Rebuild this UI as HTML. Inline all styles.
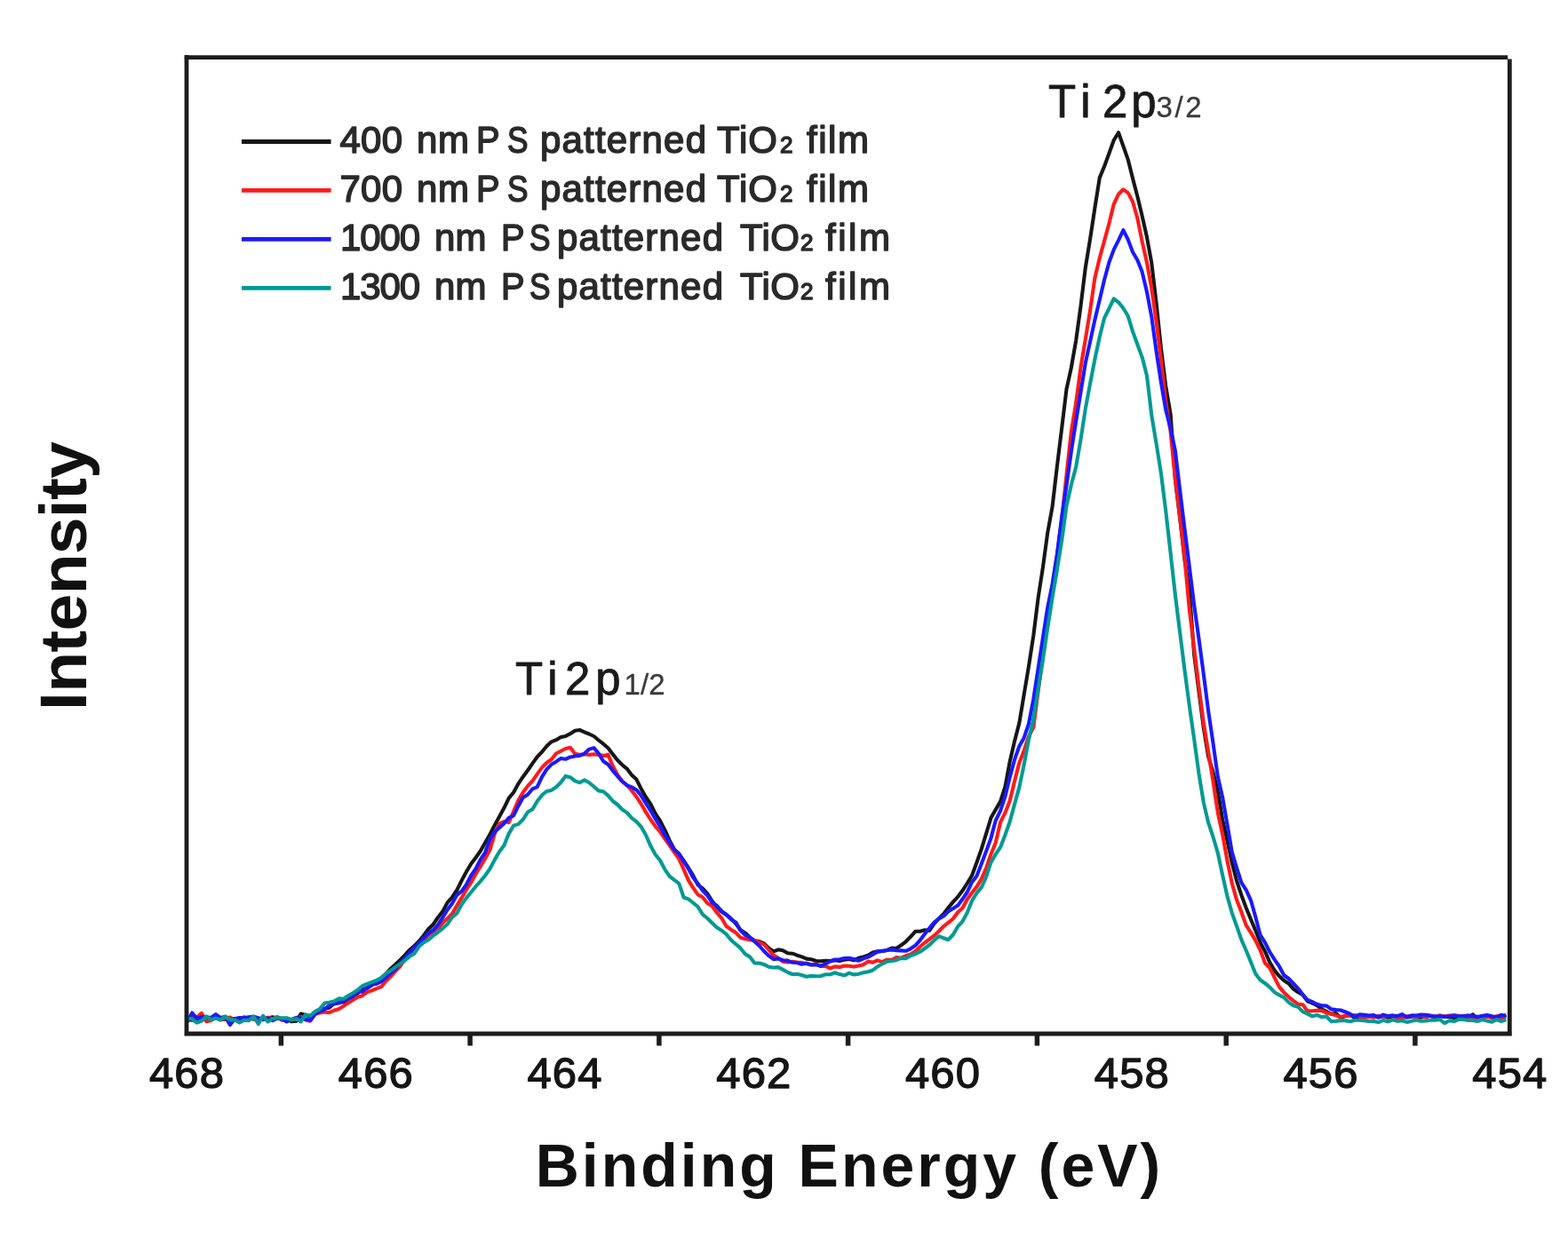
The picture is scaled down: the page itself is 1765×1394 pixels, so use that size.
<!DOCTYPE html>
<html><head><meta charset="utf-8"><title>Ti 2p XPS spectra</title>
<style>
html,body{margin:0;padding:0;background:#fff;}
body{width:1765px;height:1394px;overflow:hidden;}
svg{display:block;font-family:'Liberation Sans', Arial, Helvetica, sans-serif;filter:blur(0.5px);}
</style></head><body>
<svg width="1765" height="1394" viewBox="0 0 1765 1394">
<path d="M211.0,1147.8 L216.3,1148.8 L221.6,1147.7 L227.0,1144.1 L232.3,1149.0 L237.6,1148.0 L242.9,1145.8 L248.2,1148.3 L253.6,1147.8 L258.9,1147.6 L264.2,1147.1 L269.5,1148.2 L274.8,1145.4 L280.2,1146.6 L285.5,1145.9 L290.8,1148.3 L296.1,1147.1 L301.4,1146.4 L306.8,1145.3 L312.1,1146.6 L317.4,1147.3 L322.7,1146.7 L328.0,1150.3 L333.4,1149.8 L338.7,1141.6 L344.0,1143.0 L349.3,1144.4 L354.6,1141.6 L360.0,1139.1 L365.3,1135.8 L370.6,1134.8 L375.9,1129.8 L381.2,1128.4 L386.6,1128.5 L391.9,1124.8 L397.2,1122.2 L402.5,1118.3 L407.8,1114.2 L413.2,1112.7 L418.5,1109.3 L423.8,1104.6 L429.1,1101.1 L434.4,1096.9 L439.8,1090.7 L445.1,1085.9 L450.4,1080.9 L455.7,1075.6 L461.0,1069.7 L466.4,1065.1 L471.7,1059.7 L477.0,1053.2 L482.3,1046.1 L487.6,1041.0 L493.0,1033.0 L498.3,1026.4 L503.6,1016.4 L508.9,1010.5 L514.2,1002.5 L519.6,991.6 L524.9,981.7 L530.2,972.7 L535.5,965.8 L540.8,958.3 L546.2,948.7 L551.5,939.4 L556.8,929.3 L562.1,919.6 L567.4,909.8 L572.8,898.6 L578.1,892.2 L583.4,882.6 L588.7,874.7 L594.0,867.5 L599.4,859.6 L604.7,852.2 L610.0,846.8 L615.3,840.3 L620.6,835.3 L626.0,833.2 L631.3,830.1 L636.6,828.9 L641.9,826.2 L647.2,822.7 L652.6,822.0 L657.9,824.3 L663.2,826.5 L668.5,829.0 L673.8,833.5 L679.2,837.7 L684.5,842.3 L689.8,849.2 L695.1,856.0 L700.4,861.3 L705.8,865.7 L711.1,872.7 L716.4,877.6 L721.7,888.2 L727.0,897.5 L732.4,905.4 L737.7,916.1 L743.0,924.2 L748.3,934.4 L753.6,946.2 L759.0,956.4 L764.3,962.3 L769.6,969.2 L774.9,977.2 L780.2,985.9 L785.6,996.4 L790.9,1000.4 L796.2,1006.1 L801.5,1014.6 L806.8,1021.1 L812.2,1026.6 L817.5,1029.9 L822.8,1034.4 L828.1,1039.7 L833.4,1047.0 L838.8,1050.6 L844.1,1055.6 L849.4,1059.4 L854.7,1060.0 L860.0,1062.4 L865.4,1067.8 L870.7,1071.3 L876.0,1069.3 L881.3,1070.3 L886.6,1073.3 L892.0,1073.7 L897.3,1075.7 L902.6,1077.4 L907.9,1079.6 L913.2,1080.2 L918.6,1082.0 L923.9,1082.3 L929.2,1081.7 L934.5,1082.1 L939.8,1081.3 L945.2,1081.9 L950.5,1080.6 L955.8,1080.0 L961.1,1081.3 L966.4,1078.8 L971.8,1077.4 L977.1,1075.7 L982.4,1072.6 L987.7,1071.3 L993.0,1070.9 L998.4,1069.9 L1003.7,1067.6 L1009.0,1067.9 L1014.3,1064.3 L1019.6,1060.3 L1025.0,1054.8 L1030.3,1048.8 L1035.6,1048.8 L1040.9,1047.3 L1046.2,1047.8 L1051.6,1039.8 L1056.9,1034.1 L1062.2,1028.9 L1067.5,1022.1 L1072.8,1015.6 L1078.2,1009.8 L1083.5,1002.8 L1088.8,994.5 L1094.1,985.7 L1099.4,971.2 L1104.8,955.9 L1110.1,938.6 L1115.4,921.1 L1120.7,911.7 L1126.0,902.6 L1131.4,886.1 L1136.7,857.5 L1142.0,834.8 L1147.3,814.3 L1152.6,782.5 L1158.0,750.2 L1163.3,715.8 L1168.6,673.2 L1173.9,639.0 L1179.2,600.0 L1184.6,570.4 L1189.9,525.1 L1195.2,481.9 L1200.5,438.3 L1205.8,414.2 L1211.2,383.3 L1216.5,344.8 L1221.8,301.6 L1227.1,269.1 L1232.4,234.1 L1237.8,200.1 L1243.1,187.2 L1248.4,172.8 L1253.7,158.0 L1259.0,149.2 L1264.4,164.5 L1269.7,179.6 L1275.0,200.8 L1280.3,221.0 L1285.6,242.9 L1291.0,267.1 L1296.3,296.2 L1301.6,341.3 L1306.9,392.0 L1312.2,434.6 L1317.6,466.3 L1322.9,540.1 L1328.2,583.6 L1333.5,630.1 L1338.8,665.4 L1344.2,737.2 L1349.5,778.6 L1354.8,819.4 L1360.1,851.6 L1365.4,869.4 L1370.8,890.6 L1376.1,922.9 L1381.4,946.4 L1386.7,971.1 L1392.0,991.6 L1397.4,1007.9 L1402.7,1022.3 L1408.0,1035.3 L1413.3,1047.8 L1418.6,1061.2 L1424.0,1071.4 L1429.3,1083.6 L1434.6,1092.6 L1439.9,1099.1 L1445.2,1104.1 L1450.6,1107.5 L1455.9,1113.6 L1461.2,1117.3 L1466.5,1120.2 L1471.8,1127.3 L1477.2,1129.5 L1482.5,1132.1 L1487.8,1136.2 L1493.1,1139.0 L1498.4,1141.8 L1503.8,1141.1 L1509.1,1145.9 L1514.4,1144.0 L1519.7,1143.3 L1525.0,1145.7 L1530.4,1144.6 L1535.7,1145.4 L1541.0,1144.6 L1546.3,1144.9 L1551.6,1145.3 L1557.0,1144.2 L1562.3,1145.7 L1567.6,1144.5 L1572.9,1144.0 L1578.2,1145.1 L1583.6,1145.5 L1588.9,1144.7 L1594.2,1144.1 L1599.5,1145.7 L1604.8,1143.1 L1610.2,1143.9 L1615.5,1145.0 L1620.8,1143.5 L1626.1,1145.0 L1631.4,1144.9 L1636.8,1146.0 L1642.1,1144.0 L1647.4,1144.3 L1652.7,1145.4 L1658.0,1142.3 L1663.4,1148.4 L1668.7,1144.2 L1674.0,1144.2 L1679.3,1145.9 L1684.6,1145.0 L1690.0,1143.0 L1695.3,1145.7" fill="none" stroke="#161616" stroke-width="4.1" stroke-linejoin="round"/>
<path d="M211.0,1146.4 L216.3,1144.9 L221.6,1145.3 L227.0,1140.9 L232.3,1150.3 L237.6,1149.0 L242.9,1145.8 L248.2,1148.3 L253.6,1147.3 L258.9,1145.5 L264.2,1149.0 L269.5,1146.2 L274.8,1146.2 L280.2,1145.2 L285.5,1148.0 L290.8,1146.8 L296.1,1148.2 L301.4,1145.7 L306.8,1147.3 L312.1,1145.0 L317.4,1148.9 L322.7,1147.4 L328.0,1147.7 L333.4,1147.9 L338.7,1144.8 L344.0,1148.4 L349.3,1149.7 L354.6,1142.0 L360.0,1140.6 L365.3,1139.5 L370.6,1140.2 L375.9,1137.8 L381.2,1136.2 L386.6,1132.9 L391.9,1129.2 L397.2,1126.0 L402.5,1122.7 L407.8,1121.2 L413.2,1117.1 L418.5,1115.4 L423.8,1113.1 L429.1,1111.1 L434.4,1104.8 L439.8,1099.5 L445.1,1093.7 L450.4,1088.1 L455.7,1080.1 L461.0,1075.3 L466.4,1066.9 L471.7,1064.3 L477.0,1059.3 L482.3,1052.6 L487.6,1049.6 L493.0,1045.5 L498.3,1039.1 L503.6,1034.2 L508.9,1029.0 L514.2,1019.9 L519.6,1011.2 L524.9,1001.8 L530.2,993.9 L535.5,984.1 L540.8,975.7 L546.2,966.8 L551.5,956.9 L556.8,939.0 L562.1,927.6 L567.4,925.1 L572.8,925.9 L578.1,913.7 L583.4,901.2 L588.7,892.3 L594.0,885.1 L599.4,879.4 L604.7,871.6 L610.0,864.4 L615.3,859.0 L620.6,855.3 L626.0,848.5 L631.3,845.7 L636.6,843.0 L641.9,841.8 L647.2,848.8 L652.6,849.8 L657.9,849.3 L663.2,849.9 L668.5,849.2 L673.8,850.1 L679.2,850.9 L684.5,849.7 L689.8,862.6 L695.1,872.4 L700.4,879.7 L705.8,884.2 L711.1,890.2 L716.4,897.2 L721.7,905.4 L727.0,914.4 L732.4,923.0 L737.7,930.3 L743.0,936.5 L748.3,944.3 L753.6,951.8 L759.0,959.6 L764.3,967.1 L769.6,978.8 L774.9,991.1 L780.2,999.6 L785.6,1007.4 L790.9,1010.2 L796.2,1017.0 L801.5,1020.3 L806.8,1027.4 L812.2,1033.8 L817.5,1042.8 L822.8,1046.7 L828.1,1050.1 L833.4,1055.7 L838.8,1057.2 L844.1,1058.2 L849.4,1058.9 L854.7,1061.1 L860.0,1063.5 L865.4,1069.5 L870.7,1075.6 L876.0,1078.8 L881.3,1082.7 L886.6,1083.5 L892.0,1082.8 L897.3,1083.5 L902.6,1083.9 L907.9,1084.9 L913.2,1086.3 L918.6,1085.5 L923.9,1087.9 L929.2,1087.8 L934.5,1090.3 L939.8,1088.4 L945.2,1088.9 L950.5,1087.6 L955.8,1087.7 L961.1,1088.6 L966.4,1087.5 L971.8,1086.2 L977.1,1082.6 L982.4,1083.7 L987.7,1081.4 L993.0,1083.1 L998.4,1080.6 L1003.7,1081.1 L1009.0,1078.0 L1014.3,1078.7 L1019.6,1076.3 L1025.0,1074.6 L1030.3,1071.2 L1035.6,1066.0 L1040.9,1061.5 L1046.2,1057.6 L1051.6,1053.4 L1056.9,1048.5 L1062.2,1043.0 L1067.5,1038.8 L1072.8,1034.5 L1078.2,1027.3 L1083.5,1022.5 L1088.8,1012.5 L1094.1,1005.3 L1099.4,998.6 L1104.8,989.6 L1110.1,977.5 L1115.4,962.0 L1120.7,949.0 L1126.0,926.2 L1131.4,915.4 L1136.7,901.8 L1142.0,879.7 L1147.3,859.0 L1152.6,845.4 L1158.0,829.2 L1163.3,818.9 L1168.6,778.2 L1173.9,739.5 L1179.2,688.7 L1184.6,659.5 L1189.9,625.6 L1195.2,584.7 L1200.5,534.7 L1205.8,486.7 L1211.2,453.4 L1216.5,413.7 L1221.8,382.1 L1227.1,349.7 L1232.4,312.9 L1237.8,290.4 L1243.1,271.1 L1248.4,251.8 L1253.7,230.1 L1259.0,218.7 L1264.4,213.3 L1269.7,217.1 L1275.0,227.0 L1280.3,245.5 L1285.6,271.8 L1291.0,295.9 L1296.3,324.8 L1301.6,362.3 L1306.9,404.5 L1312.2,452.0 L1317.6,485.8 L1322.9,539.6 L1328.2,583.3 L1333.5,628.8 L1338.8,686.1 L1344.2,730.4 L1349.5,773.6 L1354.8,813.9 L1360.1,846.3 L1365.4,879.0 L1370.8,915.0 L1376.1,939.5 L1381.4,969.0 L1386.7,994.1 L1392.0,1013.1 L1397.4,1027.0 L1402.7,1041.9 L1408.0,1050.1 L1413.3,1059.1 L1418.6,1069.9 L1424.0,1084.5 L1429.3,1089.9 L1434.6,1100.6 L1439.9,1111.1 L1445.2,1117.4 L1450.6,1122.6 L1455.9,1126.8 L1461.2,1130.7 L1466.5,1131.3 L1471.8,1138.6 L1477.2,1138.2 L1482.5,1137.9 L1487.8,1137.9 L1493.1,1140.6 L1498.4,1141.7 L1503.8,1143.4 L1509.1,1145.0 L1514.4,1143.8 L1519.7,1143.6 L1525.0,1143.0 L1530.4,1144.6 L1535.7,1145.8 L1541.0,1144.8 L1546.3,1145.7 L1551.6,1143.7 L1557.0,1144.5 L1562.3,1144.2 L1567.6,1143.6 L1572.9,1147.0 L1578.2,1145.9 L1583.6,1144.2 L1588.9,1144.2 L1594.2,1144.9 L1599.5,1143.4 L1604.8,1145.5 L1610.2,1143.6 L1615.5,1144.6 L1620.8,1143.9 L1626.1,1144.5 L1631.4,1143.5 L1636.8,1143.3 L1642.1,1143.9 L1647.4,1144.3 L1652.7,1144.7 L1658.0,1145.1 L1663.4,1146.7 L1668.7,1145.9 L1674.0,1144.7 L1679.3,1145.8 L1684.6,1144.2 L1690.0,1146.6 L1695.3,1145.6" fill="none" stroke="#ff1a1a" stroke-width="4.1" stroke-linejoin="round"/>
<path d="M211.0,1150.5 L216.3,1140.5 L221.6,1147.1 L227.0,1145.0 L232.3,1145.4 L237.6,1146.0 L242.9,1142.1 L248.2,1146.1 L253.6,1144.8 L258.9,1154.1 L264.2,1147.3 L269.5,1146.1 L274.8,1146.3 L280.2,1145.5 L285.5,1144.6 L290.8,1146.1 L296.1,1148.1 L301.4,1146.5 L306.8,1149.1 L312.1,1146.6 L317.4,1147.1 L322.7,1150.4 L328.0,1148.2 L333.4,1145.9 L338.7,1146.6 L344.0,1147.8 L349.3,1148.8 L354.6,1141.7 L360.0,1138.8 L365.3,1136.5 L370.6,1132.1 L375.9,1130.5 L381.2,1129.6 L386.6,1127.2 L391.9,1124.3 L397.2,1122.1 L402.5,1116.0 L407.8,1116.6 L413.2,1112.0 L418.5,1108.7 L423.8,1107.8 L429.1,1105.2 L434.4,1100.7 L439.8,1095.8 L445.1,1091.1 L450.4,1084.5 L455.7,1079.3 L461.0,1072.8 L466.4,1066.9 L471.7,1062.4 L477.0,1056.1 L482.3,1050.8 L487.6,1047.3 L493.0,1041.3 L498.3,1033.1 L503.6,1024.4 L508.9,1017.5 L514.2,1007.8 L519.6,1003.7 L524.9,996.1 L530.2,986.0 L535.5,978.2 L540.8,968.0 L546.2,959.8 L551.5,944.8 L556.8,936.8 L562.1,932.0 L567.4,927.2 L572.8,920.8 L578.1,918.4 L583.4,907.7 L588.7,898.1 L594.0,894.7 L599.4,888.3 L604.7,886.1 L610.0,874.9 L615.3,866.4 L620.6,860.8 L626.0,857.7 L631.3,853.9 L636.6,854.8 L641.9,852.4 L647.2,851.4 L652.6,850.8 L657.9,848.6 L663.2,843.6 L668.5,842.1 L673.8,848.4 L679.2,857.2 L684.5,860.8 L689.8,867.8 L695.1,874.0 L700.4,879.8 L705.8,884.4 L711.1,886.2 L716.4,889.4 L721.7,895.8 L727.0,904.3 L732.4,913.0 L737.7,921.9 L743.0,930.3 L748.3,940.1 L753.6,948.4 L759.0,956.6 L764.3,961.1 L769.6,969.6 L774.9,978.3 L780.2,987.9 L785.6,995.0 L790.9,1002.9 L796.2,1008.2 L801.5,1016.1 L806.8,1019.7 L812.2,1025.9 L817.5,1029.7 L822.8,1035.2 L828.1,1038.4 L833.4,1047.5 L838.8,1052.9 L844.1,1055.5 L849.4,1060.2 L854.7,1065.0 L860.0,1071.0 L865.4,1076.2 L870.7,1080.1 L876.0,1079.4 L881.3,1081.3 L886.6,1081.6 L892.0,1083.8 L897.3,1084.0 L902.6,1085.8 L907.9,1084.8 L913.2,1086.5 L918.6,1086.3 L923.9,1087.7 L929.2,1085.3 L934.5,1082.5 L939.8,1080.5 L945.2,1080.2 L950.5,1079.0 L955.8,1078.8 L961.1,1080.0 L966.4,1081.8 L971.8,1079.3 L977.1,1077.6 L982.4,1074.6 L987.7,1071.6 L993.0,1070.9 L998.4,1070.0 L1003.7,1069.4 L1009.0,1070.1 L1014.3,1070.4 L1019.6,1070.8 L1025.0,1068.3 L1030.3,1064.6 L1035.6,1058.8 L1040.9,1051.8 L1046.2,1045.1 L1051.6,1038.5 L1056.9,1034.4 L1062.2,1031.4 L1067.5,1026.3 L1072.8,1023.0 L1078.2,1019.6 L1083.5,1012.3 L1088.8,1004.5 L1094.1,993.2 L1099.4,986.5 L1104.8,972.5 L1110.1,958.5 L1115.4,943.9 L1120.7,924.0 L1126.0,913.2 L1131.4,896.9 L1136.7,875.1 L1142.0,855.5 L1147.3,840.3 L1152.6,830.9 L1158.0,814.9 L1163.3,787.3 L1168.6,752.7 L1173.9,718.3 L1179.2,684.1 L1184.6,657.6 L1189.9,623.7 L1195.2,582.0 L1200.5,546.6 L1205.8,508.8 L1211.2,474.1 L1216.5,441.7 L1221.8,408.8 L1227.1,384.6 L1232.4,360.1 L1237.8,337.5 L1243.1,315.0 L1248.4,295.5 L1253.7,281.1 L1259.0,270.6 L1264.4,259.2 L1269.7,269.6 L1275.0,283.7 L1280.3,292.8 L1285.6,306.1 L1291.0,328.8 L1296.3,356.8 L1301.6,395.7 L1306.9,430.4 L1312.2,461.4 L1317.6,482.2 L1322.9,507.6 L1328.2,552.3 L1333.5,595.8 L1338.8,638.1 L1344.2,681.6 L1349.5,719.4 L1354.8,759.1 L1360.1,800.2 L1365.4,836.0 L1370.8,874.5 L1376.1,897.7 L1381.4,928.0 L1386.7,959.4 L1392.0,977.1 L1397.4,993.9 L1402.7,1002.2 L1408.0,1013.8 L1413.3,1032.5 L1418.6,1052.9 L1424.0,1061.4 L1429.3,1072.0 L1434.6,1080.3 L1439.9,1088.0 L1445.2,1098.0 L1450.6,1102.0 L1455.9,1107.4 L1461.2,1113.1 L1466.5,1120.1 L1471.8,1125.8 L1477.2,1128.2 L1482.5,1130.8 L1487.8,1132.4 L1493.1,1132.5 L1498.4,1136.4 L1503.8,1137.1 L1509.1,1137.5 L1514.4,1139.5 L1519.7,1141.7 L1525.0,1145.0 L1530.4,1142.4 L1535.7,1142.9 L1541.0,1143.5 L1546.3,1143.0 L1551.6,1145.6 L1557.0,1142.6 L1562.3,1144.1 L1567.6,1143.5 L1572.9,1144.1 L1578.2,1142.1 L1583.6,1145.4 L1588.9,1143.3 L1594.2,1143.5 L1599.5,1142.5 L1604.8,1142.7 L1610.2,1144.1 L1615.5,1144.6 L1620.8,1144.3 L1626.1,1144.8 L1631.4,1144.3 L1636.8,1143.5 L1642.1,1144.4 L1647.4,1144.2 L1652.7,1143.4 L1658.0,1144.3 L1663.4,1144.9 L1668.7,1143.8 L1674.0,1143.1 L1679.3,1144.3 L1684.6,1145.6 L1690.0,1143.3 L1695.3,1143.4" fill="none" stroke="#1a1aff" stroke-width="4.1" stroke-linejoin="round"/>
<path d="M211.0,1146.6 L216.3,1147.6 L221.6,1151.7 L227.0,1149.5 L232.3,1144.4 L237.6,1148.0 L242.9,1146.6 L248.2,1148.3 L253.6,1144.5 L258.9,1148.5 L264.2,1148.5 L269.5,1151.5 L274.8,1148.7 L280.2,1149.1 L285.5,1144.7 L290.8,1153.0 L296.1,1143.8 L301.4,1150.4 L306.8,1147.2 L312.1,1146.0 L317.4,1146.4 L322.7,1146.2 L328.0,1148.4 L333.4,1147.1 L338.7,1150.4 L344.0,1142.4 L349.3,1143.8 L354.6,1139.0 L360.0,1136.1 L365.3,1129.6 L370.6,1128.7 L375.9,1127.5 L381.2,1124.4 L386.6,1124.8 L391.9,1121.3 L397.2,1118.3 L402.5,1114.7 L407.8,1110.2 L413.2,1107.9 L418.5,1105.9 L423.8,1104.0 L429.1,1101.0 L434.4,1096.2 L439.8,1092.7 L445.1,1088.9 L450.4,1085.3 L455.7,1081.5 L461.0,1077.1 L466.4,1073.7 L471.7,1065.8 L477.0,1061.3 L482.3,1058.3 L487.6,1053.5 L493.0,1049.7 L498.3,1045.3 L503.6,1040.6 L508.9,1032.9 L514.2,1028.4 L519.6,1018.6 L524.9,1011.1 L530.2,1004.8 L535.5,998.2 L540.8,992.4 L546.2,985.7 L551.5,978.2 L556.8,968.1 L562.1,959.0 L567.4,951.9 L572.8,938.6 L578.1,929.6 L583.4,928.1 L588.7,922.8 L594.0,914.5 L599.4,911.3 L604.7,902.2 L610.0,895.4 L615.3,891.0 L620.6,889.9 L626.0,886.2 L631.3,881.0 L636.6,873.9 L641.9,875.2 L647.2,879.4 L652.6,881.3 L657.9,878.4 L663.2,881.2 L668.5,885.7 L673.8,890.4 L679.2,891.2 L684.5,895.8 L689.8,902.0 L695.1,906.0 L700.4,911.5 L705.8,915.1 L711.1,921.2 L716.4,925.2 L721.7,931.0 L727.0,940.2 L732.4,952.6 L737.7,962.3 L743.0,968.8 L748.3,978.8 L753.6,986.6 L759.0,990.9 L764.3,994.8 L769.6,1010.5 L774.9,1012.4 L780.2,1016.5 L785.6,1021.0 L790.9,1029.6 L796.2,1034.0 L801.5,1039.3 L806.8,1044.2 L812.2,1047.7 L817.5,1051.8 L822.8,1058.4 L828.1,1063.0 L833.4,1067.4 L838.8,1074.2 L844.1,1077.5 L849.4,1084.4 L854.7,1084.6 L860.0,1085.9 L865.4,1088.7 L870.7,1089.5 L876.0,1089.1 L881.3,1091.9 L886.6,1094.8 L892.0,1097.0 L897.3,1096.7 L902.6,1098.0 L907.9,1099.7 L913.2,1098.9 L918.6,1099.3 L923.9,1099.0 L929.2,1097.2 L934.5,1097.2 L939.8,1095.3 L945.2,1097.1 L950.5,1098.3 L955.8,1095.7 L961.1,1097.4 L966.4,1096.7 L971.8,1095.1 L977.1,1094.3 L982.4,1092.5 L987.7,1088.4 L993.0,1085.3 L998.4,1082.8 L1003.7,1082.0 L1009.0,1081.2 L1014.3,1078.9 L1019.6,1079.2 L1025.0,1076.1 L1030.3,1074.2 L1035.6,1071.7 L1040.9,1068.0 L1046.2,1064.0 L1051.6,1058.8 L1056.9,1054.2 L1062.2,1056.3 L1067.5,1058.2 L1072.8,1052.5 L1078.2,1043.2 L1083.5,1037.5 L1088.8,1027.5 L1094.1,1014.3 L1099.4,1005.6 L1104.8,999.1 L1110.1,987.5 L1115.4,971.2 L1120.7,962.0 L1126.0,954.2 L1131.4,940.3 L1136.7,925.2 L1142.0,905.6 L1147.3,886.6 L1152.6,861.3 L1158.0,832.7 L1163.3,809.5 L1168.6,775.8 L1173.9,742.8 L1179.2,707.1 L1184.6,673.0 L1189.9,641.4 L1195.2,608.4 L1200.5,569.7 L1205.8,546.0 L1211.2,525.7 L1216.5,494.9 L1221.8,460.4 L1227.1,431.8 L1232.4,404.5 L1237.8,379.2 L1243.1,358.1 L1248.4,347.5 L1253.7,336.4 L1259.0,340.4 L1264.4,347.0 L1269.7,355.8 L1275.0,373.1 L1280.3,387.8 L1285.6,402.1 L1291.0,423.2 L1296.3,467.7 L1301.6,499.5 L1306.9,532.7 L1312.2,575.0 L1317.6,622.6 L1322.9,670.0 L1328.2,712.2 L1333.5,754.8 L1338.8,794.5 L1344.2,832.5 L1349.5,871.1 L1354.8,903.6 L1360.1,926.2 L1365.4,942.0 L1370.8,960.3 L1376.1,985.3 L1381.4,1008.9 L1386.7,1027.9 L1392.0,1042.6 L1397.4,1058.1 L1402.7,1070.2 L1408.0,1083.3 L1413.3,1096.6 L1418.6,1103.5 L1424.0,1107.2 L1429.3,1111.6 L1434.6,1117.2 L1439.9,1120.4 L1445.2,1123.1 L1450.6,1128.6 L1455.9,1132.3 L1461.2,1133.9 L1466.5,1139.2 L1471.8,1141.6 L1477.2,1144.3 L1482.5,1142.9 L1487.8,1145.3 L1493.1,1144.5 L1498.4,1150.2 L1503.8,1149.8 L1509.1,1149.1 L1514.4,1149.2 L1519.7,1150.3 L1525.0,1148.8 L1530.4,1148.8 L1535.7,1149.1 L1541.0,1149.9 L1546.3,1150.0 L1551.6,1151.1 L1557.0,1148.9 L1562.3,1150.4 L1567.6,1148.3 L1572.9,1149.7 L1578.2,1149.2 L1583.6,1150.9 L1588.9,1149.7 L1594.2,1148.6 L1599.5,1149.7 L1604.8,1149.4 L1610.2,1148.7 L1615.5,1148.7 L1620.8,1148.0 L1626.1,1152.1 L1631.4,1149.2 L1636.8,1150.1 L1642.1,1147.8 L1647.4,1147.9 L1652.7,1148.9 L1658.0,1148.9 L1663.4,1149.9 L1668.7,1148.0 L1674.0,1149.6 L1679.3,1150.7 L1684.6,1148.0 L1690.0,1150.1 L1695.3,1148.0" fill="none" stroke="#009a94" stroke-width="4.1" stroke-linejoin="round"/>
<path d="M207.5,64.6 H1697.2 M1699.3,66.5 V1166.6 M1701.8,1164 H207.5 M210,1166.5 V62.1" fill="none" stroke="#1c1c1c" stroke-width="4.8"/>
<line x1="316.4" y1="1164" x2="316.4" y2="1177.5" stroke="#1c1c1c" stroke-width="5.5"/>
<line x1="529.1" y1="1164" x2="529.1" y2="1177.5" stroke="#1c1c1c" stroke-width="5.5"/>
<line x1="741.9" y1="1164" x2="741.9" y2="1177.5" stroke="#1c1c1c" stroke-width="5.5"/>
<line x1="954.6" y1="1164" x2="954.6" y2="1177.5" stroke="#1c1c1c" stroke-width="5.5"/>
<line x1="1167.4" y1="1164" x2="1167.4" y2="1177.5" stroke="#1c1c1c" stroke-width="5.5"/>
<line x1="1380.2" y1="1164" x2="1380.2" y2="1177.5" stroke="#1c1c1c" stroke-width="5.5"/>
<line x1="1592.9" y1="1164" x2="1592.9" y2="1177.5" stroke="#1c1c1c" stroke-width="5.5"/>
<line x1="272" y1="159.5" x2="372.6" y2="159.5" stroke="#161616" stroke-width="4.8"/>
<line x1="272" y1="214.4" x2="372.6" y2="214.4" stroke="#ff1a1a" stroke-width="4.8"/>
<line x1="272" y1="269.4" x2="372.6" y2="269.4" stroke="#1a1aff" stroke-width="4.8"/>
<line x1="272" y1="324.4" x2="372.6" y2="324.4" stroke="#009a94" stroke-width="4.8"/>
<text x="210.0" y="1225" font-size="49" font-weight="normal" fill="#151515" stroke="#151515" stroke-width="1.3" stroke-linejoin="round" textLength="84" lengthAdjust="spacing" text-anchor="middle">468</text>
<text x="422.8" y="1225" font-size="49" font-weight="normal" fill="#151515" stroke="#151515" stroke-width="1.3" stroke-linejoin="round" textLength="84" lengthAdjust="spacing" text-anchor="middle">466</text>
<text x="635.5" y="1225" font-size="49" font-weight="normal" fill="#151515" stroke="#151515" stroke-width="1.3" stroke-linejoin="round" textLength="84" lengthAdjust="spacing" text-anchor="middle">464</text>
<text x="848.3" y="1225" font-size="49" font-weight="normal" fill="#151515" stroke="#151515" stroke-width="1.3" stroke-linejoin="round" textLength="84" lengthAdjust="spacing" text-anchor="middle">462</text>
<text x="1061.0" y="1225" font-size="49" font-weight="normal" fill="#151515" stroke="#151515" stroke-width="1.3" stroke-linejoin="round" textLength="84" lengthAdjust="spacing" text-anchor="middle">460</text>
<text x="1273.8" y="1225" font-size="49" font-weight="normal" fill="#151515" stroke="#151515" stroke-width="1.3" stroke-linejoin="round" textLength="84" lengthAdjust="spacing" text-anchor="middle">458</text>
<text x="1486.5" y="1225" font-size="49" font-weight="normal" fill="#151515" stroke="#151515" stroke-width="1.3" stroke-linejoin="round" textLength="84" lengthAdjust="spacing" text-anchor="middle">456</text>
<text x="1699.3" y="1225" font-size="49" font-weight="normal" fill="#151515" stroke="#151515" stroke-width="1.3" stroke-linejoin="round" textLength="84" lengthAdjust="spacing" text-anchor="middle">454</text>
<text x="954.5" y="1336" font-size="68" font-weight="bold" fill="#111" textLength="703.5" lengthAdjust="spacing" text-anchor="middle">Binding Energy (eV)</text>
<text transform="translate(97,648.5) rotate(-90)" text-anchor="middle" font-size="75" font-weight="bold" fill="#111" textLength="303" lengthAdjust="spacing">Intensity</text>
<text x="382.5" y="172" font-size="42" font-weight="normal" fill="#2a2a2a" stroke="#2a2a2a" stroke-width="1.5" stroke-linejoin="round" textLength="70.5" lengthAdjust="spacing">400</text>
<text x="469" y="172" font-size="42" font-weight="normal" fill="#2a2a2a" stroke="#2a2a2a" stroke-width="1.5" stroke-linejoin="round" textLength="59" lengthAdjust="spacing">nm</text>
<text transform="translate(536,172) scale(0.95,1)" font-size="42" font-weight="normal" fill="#2a2a2a" stroke="#2a2a2a" stroke-width="1.5" stroke-linejoin="round">P</text>
<text transform="translate(571,172) scale(0.84,1)" font-size="42" font-weight="normal" fill="#2a2a2a" stroke="#2a2a2a" stroke-width="1.5" stroke-linejoin="round">S</text>
<text x="608" y="172" font-size="42" font-weight="normal" fill="#2a2a2a" stroke="#2a2a2a" stroke-width="1.5" stroke-linejoin="round" textLength="187" lengthAdjust="spacing">patterned</text>
<text x="807" y="172" font-size="42" font-weight="normal" fill="#2a2a2a" stroke="#2a2a2a" stroke-width="1.5" stroke-linejoin="round" textLength="68" lengthAdjust="spacing">TiO</text>
<text x="878" y="172" font-size="26" font-weight="normal" fill="#2a2a2a" stroke="#2a2a2a" stroke-width="1.5" stroke-linejoin="round">2</text>
<text x="908" y="172" font-size="42" font-weight="normal" fill="#2a2a2a" stroke="#2a2a2a" stroke-width="1.5" stroke-linejoin="round" textLength="70" lengthAdjust="spacing">film</text>
<text x="382.5" y="227" font-size="42" font-weight="normal" fill="#2a2a2a" stroke="#2a2a2a" stroke-width="1.5" stroke-linejoin="round" textLength="70.5" lengthAdjust="spacing">700</text>
<text x="469" y="227" font-size="42" font-weight="normal" fill="#2a2a2a" stroke="#2a2a2a" stroke-width="1.5" stroke-linejoin="round" textLength="59" lengthAdjust="spacing">nm</text>
<text transform="translate(536,227) scale(0.95,1)" font-size="42" font-weight="normal" fill="#2a2a2a" stroke="#2a2a2a" stroke-width="1.5" stroke-linejoin="round">P</text>
<text transform="translate(571,227) scale(0.84,1)" font-size="42" font-weight="normal" fill="#2a2a2a" stroke="#2a2a2a" stroke-width="1.5" stroke-linejoin="round">S</text>
<text x="608" y="227" font-size="42" font-weight="normal" fill="#2a2a2a" stroke="#2a2a2a" stroke-width="1.5" stroke-linejoin="round" textLength="187" lengthAdjust="spacing">patterned</text>
<text x="807" y="227" font-size="42" font-weight="normal" fill="#2a2a2a" stroke="#2a2a2a" stroke-width="1.5" stroke-linejoin="round" textLength="68" lengthAdjust="spacing">TiO</text>
<text x="878" y="227" font-size="26" font-weight="normal" fill="#2a2a2a" stroke="#2a2a2a" stroke-width="1.5" stroke-linejoin="round">2</text>
<text x="908" y="227" font-size="42" font-weight="normal" fill="#2a2a2a" stroke="#2a2a2a" stroke-width="1.5" stroke-linejoin="round" textLength="70" lengthAdjust="spacing">film</text>
<text x="383" y="282" font-size="42" font-weight="normal" fill="#2a2a2a" stroke="#2a2a2a" stroke-width="1.5" stroke-linejoin="round" textLength="90" lengthAdjust="spacing">1000</text>
<text x="489" y="282" font-size="42" font-weight="normal" fill="#2a2a2a" stroke="#2a2a2a" stroke-width="1.5" stroke-linejoin="round" textLength="58.5" lengthAdjust="spacing">nm</text>
<text transform="translate(564,282) scale(0.95,1)" font-size="42" font-weight="normal" fill="#2a2a2a" stroke="#2a2a2a" stroke-width="1.5" stroke-linejoin="round">P</text>
<text transform="translate(596,282) scale(0.84,1)" font-size="42" font-weight="normal" fill="#2a2a2a" stroke="#2a2a2a" stroke-width="1.5" stroke-linejoin="round">S</text>
<text x="627" y="282" font-size="42" font-weight="normal" fill="#2a2a2a" stroke="#2a2a2a" stroke-width="1.5" stroke-linejoin="round" textLength="187" lengthAdjust="spacing">patterned</text>
<text x="833" y="282" font-size="42" font-weight="normal" fill="#2a2a2a" stroke="#2a2a2a" stroke-width="1.5" stroke-linejoin="round" textLength="67" lengthAdjust="spacing">TiO</text>
<text x="901" y="282" font-size="26" font-weight="normal" fill="#2a2a2a" stroke="#2a2a2a" stroke-width="1.5" stroke-linejoin="round">2</text>
<text x="929" y="282" font-size="42" font-weight="normal" fill="#2a2a2a" stroke="#2a2a2a" stroke-width="1.5" stroke-linejoin="round" textLength="73" lengthAdjust="spacing">film</text>
<text x="383" y="337" font-size="42" font-weight="normal" fill="#2a2a2a" stroke="#2a2a2a" stroke-width="1.5" stroke-linejoin="round" textLength="90" lengthAdjust="spacing">1300</text>
<text x="489" y="337" font-size="42" font-weight="normal" fill="#2a2a2a" stroke="#2a2a2a" stroke-width="1.5" stroke-linejoin="round" textLength="58.5" lengthAdjust="spacing">nm</text>
<text transform="translate(564,337) scale(0.95,1)" font-size="42" font-weight="normal" fill="#2a2a2a" stroke="#2a2a2a" stroke-width="1.5" stroke-linejoin="round">P</text>
<text transform="translate(596,337) scale(0.84,1)" font-size="42" font-weight="normal" fill="#2a2a2a" stroke="#2a2a2a" stroke-width="1.5" stroke-linejoin="round">S</text>
<text x="627" y="337" font-size="42" font-weight="normal" fill="#2a2a2a" stroke="#2a2a2a" stroke-width="1.5" stroke-linejoin="round" textLength="187" lengthAdjust="spacing">patterned</text>
<text x="833" y="337" font-size="42" font-weight="normal" fill="#2a2a2a" stroke="#2a2a2a" stroke-width="1.5" stroke-linejoin="round" textLength="67" lengthAdjust="spacing">TiO</text>
<text x="901" y="337" font-size="26" font-weight="normal" fill="#2a2a2a" stroke="#2a2a2a" stroke-width="1.5" stroke-linejoin="round">2</text>
<text x="929" y="337" font-size="42" font-weight="normal" fill="#2a2a2a" stroke="#2a2a2a" stroke-width="1.5" stroke-linejoin="round" textLength="73" lengthAdjust="spacing">film</text>
<text x="1180" y="131.5" font-size="51" font-weight="normal" fill="#1a1a1a" stroke="#1a1a1a" stroke-width="0.8" stroke-linejoin="round" textLength="47.5" lengthAdjust="spacing">Ti</text>
<text x="1241" y="131.5" font-size="51" font-weight="normal" fill="#1a1a1a" stroke="#1a1a1a" stroke-width="0.8" stroke-linejoin="round" textLength="60.7" lengthAdjust="spacing">2p</text>
<text x="1301.5" y="131.5" font-size="33" font-weight="normal" fill="#3a3a3a" stroke="#3a3a3a" stroke-width="0.3" stroke-linejoin="round" textLength="51" lengthAdjust="spacing">3/2</text>
<text x="580" y="781.5" font-size="51" font-weight="normal" fill="#1a1a1a" stroke="#1a1a1a" stroke-width="0.8" stroke-linejoin="round" textLength="47.5" lengthAdjust="spacing">Ti</text>
<text x="636" y="781.5" font-size="51" font-weight="normal" fill="#1a1a1a" stroke="#1a1a1a" stroke-width="0.8" stroke-linejoin="round" textLength="62.7" lengthAdjust="spacing">2p</text>
<text x="702.5" y="781.5" font-size="33" font-weight="normal" fill="#3a3a3a" stroke="#3a3a3a" stroke-width="0.3" stroke-linejoin="round" textLength="46" lengthAdjust="spacing">1/2</text>
</svg>
</body></html>
